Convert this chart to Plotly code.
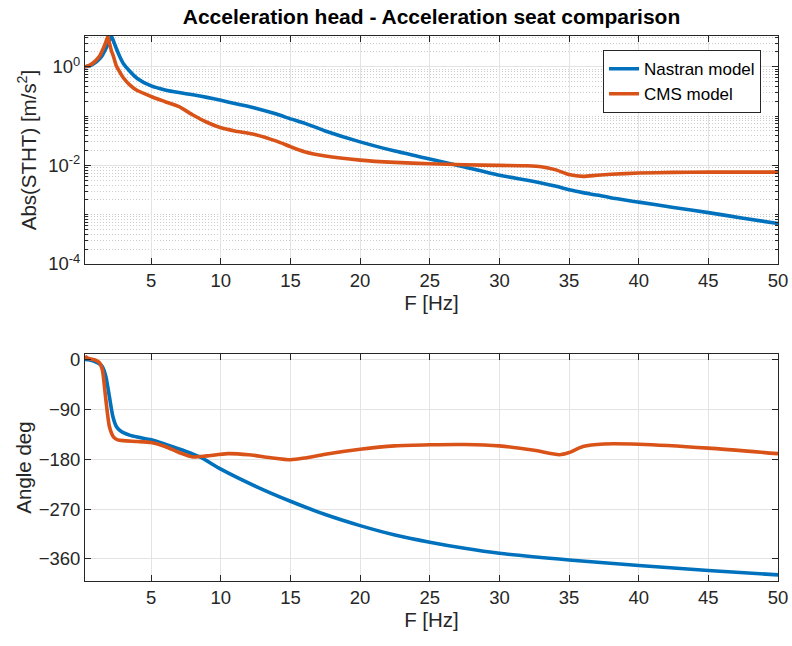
import plotly.graph_objects as go

# Frequency grid [Hz] for the magnitude curves
f_mag = [0.25, 0.6, 1.0, 1.3, 1.5, 1.7, 1.88, 2.0, 2.15, 2.3, 2.5, 2.75, 3.0, 3.5, 4.0,
         5.0, 6.0, 7.0, 8.0, 9.0, 10.0, 11.0, 12.5, 14.0, 15.0, 16.0, 17.5, 20.0, 22.5,
         25.0, 27.5, 30.0, 32.0, 33.0, 34.0, 35.0, 36.0, 37.0, 38.0, 40.0, 42.5, 45.0,
         47.5, 50.0]

# |STHT| [m/s^2]
mag_nastran = [1.0, 1.05, 1.22, 1.45, 1.72, 2.2, 2.8, 3.4, 4.15, 3.3, 2.35, 1.6, 1.17,
               0.79, 0.58, 0.41, 0.34, 0.30, 0.27, 0.24, 0.21, 0.18, 0.145, 0.11, 0.088,
               0.072, 0.05, 0.030, 0.0195, 0.0135, 0.0093, 0.0063, 0.005, 0.0044, 0.0038,
               0.0032, 0.0028, 0.0025, 0.0022, 0.0018, 0.0014, 0.0011, 0.00085, 0.00066]
mag_cms = [1.0, 1.08, 1.32, 1.65, 2.17, 2.9, 4.1, 3.1, 2.1, 1.6, 1.05, 0.78, 0.6, 0.42,
           0.33, 0.25, 0.196, 0.155, 0.105, 0.075, 0.058, 0.05, 0.042, 0.031, 0.024,
           0.019, 0.0155, 0.0128, 0.0115, 0.0108, 0.0103, 0.0100, 0.0098, 0.0094, 0.0082,
           0.0065, 0.006, 0.0063, 0.0066, 0.0070, 0.0072, 0.0073, 0.0073, 0.0073]

# Phase [deg]
f_ph_nastran = [0.25, 0.6, 1.0, 1.3, 1.5, 1.75, 2.0, 2.25, 2.5, 2.75, 3.0, 3.5, 4.0, 5.0,
                6.0, 7.5, 8.5, 10.0, 12.5, 15.0, 17.5, 20.0, 22.5, 25.0, 27.5, 30.0, 35.0,
                40.0, 45.0, 50.0]
ph_nastran = [0, -1, -4, -8, -13, -31, -67, -103, -121, -128, -132, -137, -140, -145,
              -153, -166, -176, -198, -229, -256, -280, -300, -317, -330, -341, -350,
              -362, -372, -381, -389]

f_ph_cms = [0.25, 0.5, 1.0, 1.3, 1.5, 1.75, 2.0, 2.3, 2.6, 3.0, 4.0, 5.0, 6.0, 7.0, 8.0,
            9.0, 10.5, 12.0, 13.5, 15.0, 16.0, 17.5, 20.0, 22.5, 25.0, 27.5, 30.0, 32.5,
            34.3, 35.0, 36.0, 37.5, 40.0, 45.0, 50.0]
ph_cms = [6, 2, -1, -6, -19, -73, -121, -140, -145, -146.5, -148, -150, -157, -168, -176,
          -174, -170, -172, -177, -181, -178, -171, -162, -156, -154, -153.5, -156, -164,
          -172, -168, -157, -152.5, -153, -160, -170]

x_ticks = [5, 10, 15, 20, 25, 30, 35, 40, 45, 50]
mag_ticks = [1e-4, 1e-2, 1.0]
mag_ticktext = ["10<sup>-4</sup>", "10<sup>-2</sup>", "10<sup>0</sup>"]
mag_minor = [m * 10.0 ** e for e in (-4, -3, -2, -1, 0) for m in range(1, 10)
             if not (m == 1 and e in (-4, -2, 0))]
ph_ticks = [0, -90, -180, -270, -360]

BLUE = "#0072BD"
ORANGE = "#D95319"
AXC = "#262626"
GRID = "#e3e3e3"
FONT = "Liberation Sans, Arial, sans-serif"

fig = go.Figure()
line_kw = dict(width=3.6, shape="spline", smoothing=0.6)
fig.add_trace(go.Scatter(x=f_mag, y=mag_nastran, mode="lines", name="Nastran model",
                         line=dict(color=BLUE, **line_kw), xaxis="x", yaxis="y"))
fig.add_trace(go.Scatter(x=f_mag, y=mag_cms, mode="lines", name="CMS model",
                         line=dict(color=ORANGE, **line_kw), xaxis="x", yaxis="y"))
fig.add_trace(go.Scatter(x=f_ph_nastran, y=ph_nastran, mode="lines", showlegend=False,
                         line=dict(color=BLUE, **line_kw), xaxis="x2", yaxis="y2"))
fig.add_trace(go.Scatter(x=f_ph_cms, y=ph_cms, mode="lines", showlegend=False,
                         line=dict(color=ORANGE, **line_kw), xaxis="x2", yaxis="y2"))

ax_common = dict(showline=True, linecolor=AXC, linewidth=1, mirror="ticks",
                 ticks="inside", ticklen=6, tickcolor=AXC, showgrid=True,
                 gridcolor=GRID, gridwidth=1, zeroline=False, automargin=False,
                 tickfont=dict(family=FONT, size=18.5, color=AXC))
title_font = dict(family=FONT, size=20.5, color=AXC)

fig.update_layout(
    width=792, height=646,
    margin=dict(l=85, r=14, t=36, b=65),
    plot_bgcolor="white", paper_bgcolor="white",
    font=dict(family=FONT, color=AXC),
    title=dict(text="<b>Acceleration head - Acceleration seat comparison</b>",
               x=0.5, xref="paper", xanchor="center", y=1 - 17 / 646,
               yanchor="middle", font=dict(family=FONT, size=21, color="black")),
    xaxis=dict(domain=[0, 1], anchor="y", range=[0.25, 50], tickvals=x_ticks,
               title=dict(text="F [Hz]", font=title_font, standoff=4), **ax_common),
    yaxis=dict(domain=[0.5817, 1], anchor="x", type="log", range=[-4, 0.625],
               tickvals=mag_ticks, ticktext=mag_ticktext,
               minor=dict(tickvals=mag_minor, showgrid=True, griddash="1px,2px",
                          gridcolor="#cdcdcd", gridwidth=1, ticks="inside",
                          ticklen=3, tickcolor=AXC),
               title=dict(text="Abs(STHT) [m/s<sup>2</sup>]", font=title_font,
                          standoff=6), **ax_common),
    xaxis2=dict(domain=[0, 1], anchor="y2", range=[0.25, 50], tickvals=x_ticks,
                title=dict(text="F [Hz]", font=title_font, standoff=4), **ax_common),
    yaxis2=dict(domain=[0, 0.4165], anchor="x2", range=[-400, 10], tickvals=ph_ticks,
                title=dict(text="Angle deg", font=title_font, standoff=1),
                **ax_common),
    legend=dict(x=0.9755, y=0.974, xanchor="right", yanchor="top", xref="paper",
                yref="paper", bgcolor="white", bordercolor=AXC, borderwidth=1,
                font=dict(family=FONT, size=17, color="black"),
                tracegroupgap=0),
    showlegend=True,
)

fig.write_html("out.html")
